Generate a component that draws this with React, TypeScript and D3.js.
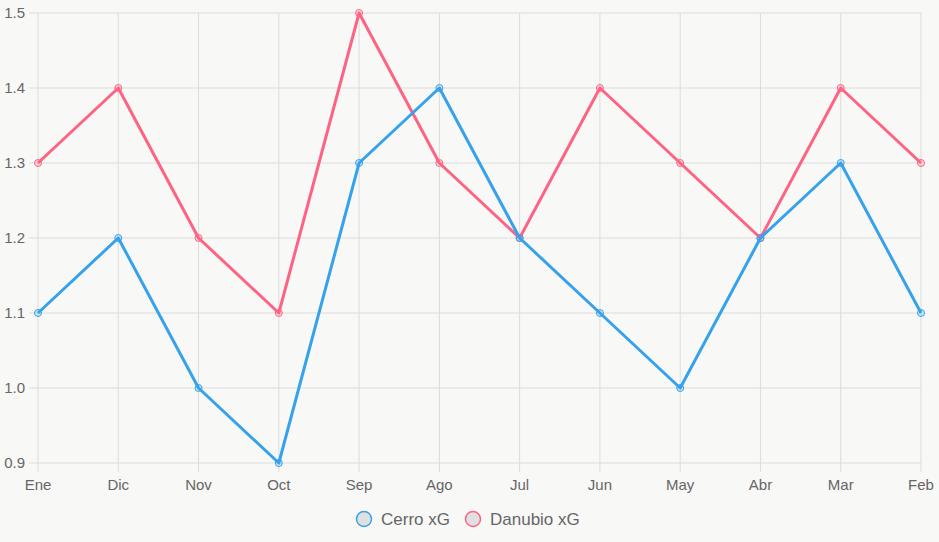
import * as d3 from 'd3'

const months = ['Ene', 'Dic', 'Nov', 'Oct', 'Sep', 'Ago', 'Jul', 'Jun', 'May', 'Abr', 'Mar', 'Feb']
const cerroXG = [1.1, 1.2, 1.0, 0.9, 1.3, 1.4, 1.2, 1.1, 1.0, 1.2, 1.3, 1.1]
const danubioXG = [1.3, 1.4, 1.2, 1.1, 1.5, 1.3, 1.2, 1.4, 1.3, 1.2, 1.4, 1.3]
const yTicks = [0.9, 1.0, 1.1, 1.2, 1.3, 1.4, 1.5]

const width = 939
const height = 542
const left = 38
const right = 921
const top = 13
const bottom = 463
const font = '"Liberation Sans", Arial, sans-serif'

const x = d3.scalePoint<string>().domain(months).range([left, right])
const y = d3.scaleLinear().domain([0.9, 1.5]).range([bottom, top])

const series = [
  { name: 'Danubio xG', values: danubioXG, color: '#ff6384', fill: 'rgba(255,99,132,0.2)' },
  { name: 'Cerro xG', values: cerroXG, color: '#36a2eb', fill: 'rgba(54,162,235,0.2)' },
]

const lineGen = d3.line<number>()
  .x((_, i) => x(months[i]) as number)
  .y(d => y(d))

function App() {
  const legend = [series[1], series[0]]
  return (
    <svg width={width} height={height} style={{ position: 'absolute', left: 0, top: 0, background: '#f8f8f7' }}>
      <rect width={width} height={height} fill="#f8f8f7" />
      {yTicks.map(t => (
        <g key={t}>
          <line x1={left - 9} x2={right} y1={y(t)} y2={y(t)} stroke="#dcdcdc" strokeWidth={1} />
          <text x={25} y={y(t)} dy="0.35em" textAnchor="end" fontSize={15} fill="#666" fontFamily={font}>
            {t.toFixed(1)}
          </text>
        </g>
      ))}
      {months.map(m => (
        <g key={m}>
          <line x1={x(m)} x2={x(m)} y1={top} y2={bottom + 9} stroke="#dcdcdc" strokeWidth={1} />
          <text x={x(m)} y={490} textAnchor="middle" fontSize={15} fill="#666" fontFamily={font}>{m}</text>
        </g>
      ))}
      {series.map(s => (
        <g key={s.name}>
          <path d={lineGen(s.values) ?? ''} fill="none" stroke={s.color} strokeWidth={3} strokeLinejoin="round" />
          {s.values.map((v, i) => (
            <circle key={i} cx={x(months[i])} cy={y(v)} r={3.5} fill={s.fill} stroke={s.color} strokeWidth={1} />
          ))}
        </g>
      ))}
      {legend.map((s, i) => {
        const cx = i === 0 ? 364 : 473
        return (
          <g key={s.name}>
            <circle cx={cx} cy={519} r={7.5} fill="#e0e0e0" stroke={s.color} strokeWidth={1.5} />
            <text x={cx + 17} y={519} dy="0.35em" fontSize={17} fill="#666" fontFamily={font}>{s.name}</text>
          </g>
        )
      })}
    </svg>
  )
}

export default App
